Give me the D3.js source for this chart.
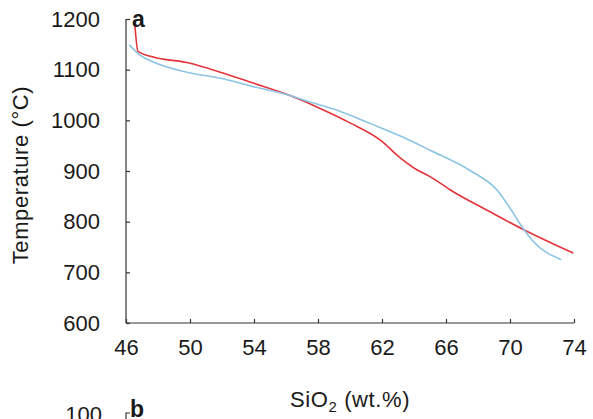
<!DOCTYPE html>
<head>
  <meta charset="utf-8">
  <script src="https://d3js.org/d3.v7.min.js"></script>
<style>
body { margin:0; background:#fff; }
text { font-family: "Liberation Sans", Arial, sans-serif; fill:#1a1a1a; }
.line { fill:none; stroke-width:1.6px; }
.line--red { stroke:#e3343b; }
.line--blue { stroke:#8cc4e4; }
.axis path, .axis line { stroke:#333; stroke-width:1.2px; }
.title { font-size:22px; letter-spacing:0.6px; }
</style>
</head>
<body>
<script>
// red curve
var redSiO2 = [46.55, 46.75, 47.7, 49.8, 51.9, 53.9, 56.25, 58.1, 60, 61.9, 63.1, 64.2, 65, 66.4, 68.6, 70.8, 73.95];
var redT    = [1190, 1136, 1125, 1114, 1095, 1074, 1049, 1024, 995, 961, 927, 902, 889, 860, 822, 785, 738];
// blue curve
var blueSiO2 = [46.2, 46.9, 47.7, 49.8, 51.9, 53.9, 56.25, 57.1, 59.2, 61.25, 63.3, 65, 67.5, 69.2, 70.1, 70.6, 70.9, 71.4, 73.2];
var blueT    = [1149, 1128, 1115, 1095, 1083, 1067, 1049, 1040, 1020, 994, 967, 941, 901, 862, 822, 797, 783, 763, 725];

var xTicks = [46, 50, 54, 58, 62, 66, 70, 74];
var yTicks = [600, 700, 800, 900, 1000, 1100, 1200];

var svg = d3.select("body").append("svg")
    .attr("width", 593)
    .attr("height", 419);

// plot box in pixels
var plotL = 126, plotR = 574, plotT = 19, plotB = 323;

var x = d3.scaleLinear().domain([46, 74]).range([plotL, plotR]);
var y = d3.scaleLinear().domain([600, 1200]).range([plotB, plotT]);

// axes (ticks pointing inward)
var gx = svg.append("g")
    .attr("class", "axis")
    .attr("transform", "translate(0," + plotB + ")")
    .call(d3.axisBottom(x).tickValues(xTicks).tickSize(-4).tickSizeOuter(0).tickPadding(16));
gx.select(".domain").attr("d", "M" + plotL + ",0H" + plotR);
gx.selectAll("text").style("font-size", "22px");

var gy = svg.append("g")
    .attr("class", "axis")
    .attr("transform", "translate(" + plotL + ",0)")
    .call(d3.axisLeft(y).tickValues(yTicks).tickSize(-4).tickSizeOuter(0).tickPadding(26).tickFormat(d3.format("d")));
gy.select(".domain").attr("d", "M0," + plotT + "V" + plotB);
gy.selectAll("text").style("font-size", "22px");

// lines
var line = d3.line()
    .x(d => x(d[0]))
    .y(d => y(d[1]))
    .curve(d3.curveMonotoneX);

svg.append("path")
    .datum(redSiO2.map((s, i) => [s, redT[i]]))
    .attr("class", "line line--red")
    .attr("d", line);

svg.append("path")
    .datum(blueSiO2.map((s, i) => [s, blueT[i]]))
    .attr("class", "line line--blue")
    .attr("d", line);

// panel letter
svg.append("text")
    .attr("x", 132).attr("y", 27)
    .style("font-size", "23px").style("font-weight", "bold")
    .text("a");

// axis titles
var xt = svg.append("text")
    .attr("class", "title")
    .attr("x", 290).attr("y", 407);
xt.append("tspan").text("SiO");
xt.append("tspan").attr("dy", 5).style("font-size", "15px").text("2");
xt.append("tspan").attr("dy", -5).text(" (wt.%)");

svg.append("text")
    .attr("class", "title")
    .attr("transform", "translate(28,175) rotate(-90)")
    .attr("text-anchor", "middle")
    .text("Temperature (\u00B0C)");

// top of next panel (cut off)
svg.append("text")
    .attr("x", 102).attr("y", 422)
    .attr("text-anchor", "end")
    .style("font-size", "22px")
    .text("100");
svg.append("path")
    .attr("d", "M" + (plotL + 4) + ",413H" + plotL + "V419")
    .attr("stroke", "#333").attr("fill", "none").attr("stroke-width", 1.2);
svg.append("text")
    .attr("x", 130).attr("y", 417)
    .style("font-size", "23px").style("font-weight", "bold")
    .text("b");
</script>
</body>
